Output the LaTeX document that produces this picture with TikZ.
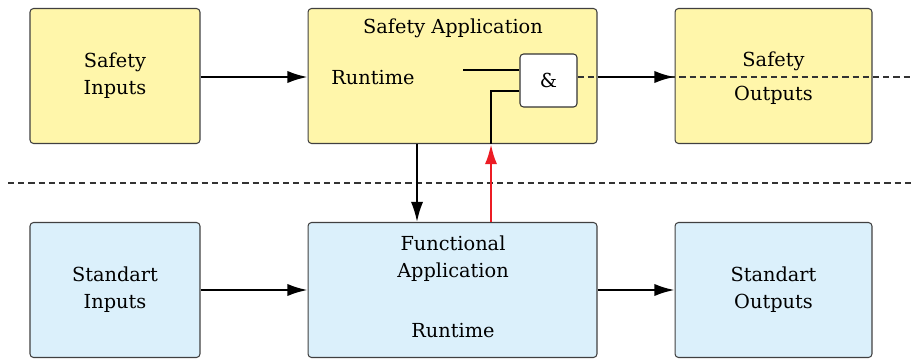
\documentclass[tikz,border=0pt]{standalone}
\usepackage{fontspec}
\setmainfont{DejaVu Serif}
\usetikzlibrary{arrows.meta}

\definecolor{safeyellow}{RGB}{255,246,170}
\definecolor{stdblue}{RGB}{219,240,251}
\definecolor{linkred}{RGB}{236,28,36}

\tikzset{
  blk/.style={draw=black!75, line width=0.6pt, rounded corners=2pt, minimum width=#1,
    minimum height=2.7cm, align=center, inner sep=0pt},
  safe/.style={blk=#1, fill=safeyellow},
  std/.style={blk=#1, fill=stdblue},
  lbl/.style={align=center, inner sep=0pt},
  flow/.style={-{Latex[length=11.5pt,width=7pt]}, line width=1.2pt},
  sep/.style={dash pattern=on 3.5pt off 2.3pt, line width=0.6pt, black!80},
}

\begin{document}
\begin{tikzpicture}[x=0.02cm, y=-0.02cm, font=\fontsize{11}{15.5}\selectfont]
  \useasboundingbox (0,0) rectangle (912,359);

  % upper row
  \node[safe=3.4cm] (safein) at (115,76) {Safety\\Inputs};
  \node[safe=5.78cm] (safeapp) at (452.5,76) {};
  \node[safe=3.94cm] (safeout) at (773.5,76) {};
  \node[lbl] (safeapptitle) at (453,28) {Safety Application};
  \node[lbl] (saferun) at (373,78) {Runtime};
  \node[lbl] (safeouttop) at (773.5,61) {Safety};
  \node[lbl] (safeoutbot) at (773.5,95) {Outputs};
  \node[draw=black!80, fill=white, line width=0.6pt, rounded corners=2pt,
    minimum width=1.14cm, minimum height=1.06cm] (andgate) at (548.5,80.5) {\&};

  % lower row
  \node[std=3.4cm] (stdin) at (115,290) {Standart\\Inputs};
  \node[std=5.78cm] (funcapp) at (452.5,290) {};
  \node[std=3.94cm] (stdout) at (773.5,290) {Standart\\Outputs};
  \node[lbl] (functitle) at (453,259) {Functional\\Application};
  \node[lbl] (funcrun) at (453,331) {Runtime};

  % free ends
  \coordinate (sepleft) at (8,183);
  \coordinate (sepright) at (912,183);
  \coordinate (outright) at (912,77);
  \coordinate (in1) at (463,70);
  \coordinate (in2) at (491,91);
  \coordinate (down) at (417,0);

  % separation
  \draw[sep] (sepleft) -- (sepright);
  \draw[sep] (andgate.east |- outright) -- (outright);

  % gate inputs
  \draw[line width=0.6pt] (in1) -- (in1 -| andgate.west);
  \draw[line width=0.6pt] (in2 -| andgate.west) -- (in2) -- (in2 |- safeapp.south);

  % flows
  \draw[flow] (safein.east |- outright) -- (safeapp.west |- outright);
  \draw[flow] (safeapp.east |- outright) -- (safeout.west |- outright);
  \draw[flow] (stdin) -- (funcapp);
  \draw[flow] (funcapp) -- (stdout);
  \draw[flow] (down |- safeapp.south) -- (down |- funcapp.north);
  \draw[flow, linkred, line width=1.5pt] (in2 |- funcapp.north) -- (in2 |- safeapp.south);
\end{tikzpicture}
\end{document}
